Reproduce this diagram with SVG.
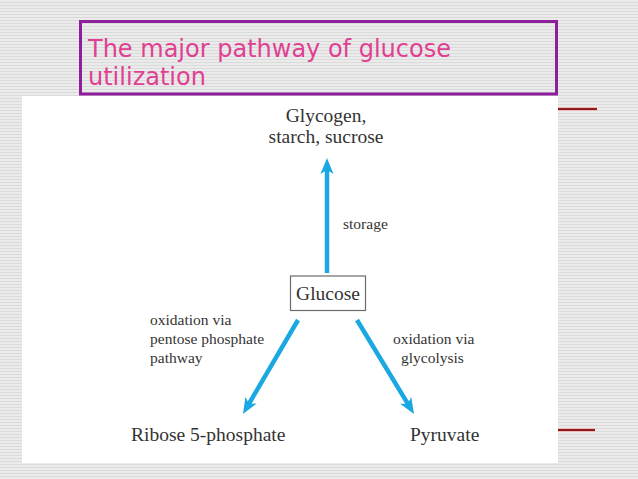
<svg xmlns="http://www.w3.org/2000/svg" width="638" height="479" viewBox="0 0 638 479">
  <style>
    .title { font-family: "DejaVu Sans", Verdana, sans-serif; font-size: 24px; fill: #e03f92; }
    .node { font-family: "Liberation Serif", "Times New Roman", serif; font-size: 19.5px; fill: #333333; }
    .lbl { font-family: "Liberation Serif", "Times New Roman", serif; font-size: 15.5px; fill: #333333; }
    .conn { stroke: #1ba8e2; stroke-width: 4.5; fill: none; marker-end: url(#ah); }
    .redline { stroke: #8b1c1c; stroke-width: 2; }
    .redhalo { stroke: #f2b8b8; stroke-width: 4; }
  </style>
  <defs>
    <pattern id="stripes" width="6" height="3" patternUnits="userSpaceOnUse">
      <rect width="6" height="3" fill="#ebebeb"/>
      <rect y="2" width="6" height="1" fill="#dadada"/>
    </pattern>
    <marker id="ah" markerUnits="userSpaceOnUse" markerWidth="17" markerHeight="14" viewBox="0 -7 17 14" refX="8" refY="0" orient="auto">
      <path d="M0,-6.5 L16,0 L0,6.5 L4,0 Z" fill="#1ba8e2"/>
    </marker>
  </defs>

  <rect width="638" height="479" fill="url(#stripes)"/>

  <g id="title">
    <rect x="80.5" y="21.5" width="476" height="72.5" fill="none" stroke="#8e1f9c" stroke-width="3"/>
    <text class="title" x="88" y="57">The major pathway of glucose</text>
    <text class="title" x="88" y="85">utilization</text>
  </g>

  <g id="decor">
    <line class="redhalo" x1="558" y1="109" x2="597" y2="109"/>
    <line class="redline" x1="558" y1="109" x2="597" y2="109"/>
    <line class="redhalo" x1="558" y1="430" x2="595" y2="430"/>
    <line class="redline" x1="558" y1="430" x2="595" y2="430"/>
  </g>

  <rect id="panel" x="22" y="96" width="536" height="367" fill="#ffffff"/>

  <g id="connectors">
    <path class="conn" d="M327,273 L327,166"/>
    <path class="conn" d="M298,320 L247,407.1"/>
    <path class="conn" d="M357,320 L409.85,407.16"/>
  </g>

  <g id="glycogen">
    <text class="node" x="326" y="122" text-anchor="middle">Glycogen,</text>
    <text class="node" x="326" y="143" text-anchor="middle">starch, sucrose</text>
  </g>

  <g id="glucose">
    <rect x="290.5" y="276" width="75" height="34.5" fill="#ffffff" stroke="#6b6b6b" stroke-width="1.2"/>
    <text class="node" x="328" y="300" text-anchor="middle">Glucose</text>
  </g>

  <g id="ribose">
    <text class="node" x="131" y="441">Ribose 5-phosphate</text>
  </g>

  <g id="pyruvate">
    <text class="node" x="410" y="441">Pyruvate</text>
  </g>

  <g id="labels">
    <text class="lbl" x="343" y="229">storage</text>
    <text class="lbl" x="150" y="325">oxidation via</text>
    <text class="lbl" x="150" y="344">pentose phosphate</text>
    <text class="lbl" x="150" y="363">pathway</text>
    <text class="lbl" x="393" y="344">oxidation via</text>
    <text class="lbl" x="401" y="363">glycolysis</text>
  </g>
</svg>
